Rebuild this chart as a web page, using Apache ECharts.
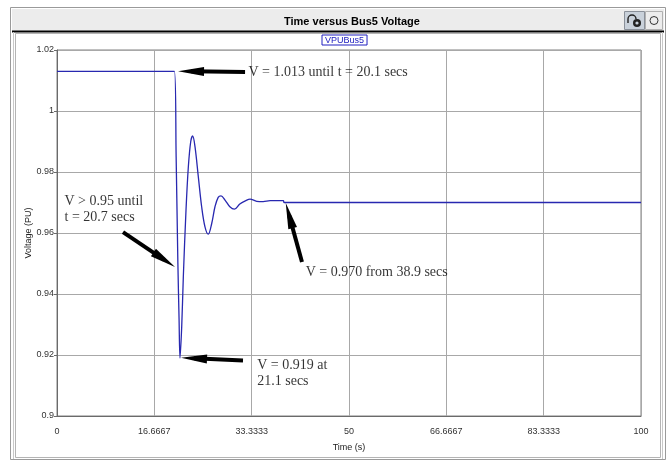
<!DOCTYPE html>
<html>
<head>
<meta charset="utf-8">
<title>Time versus Bus5 Voltage</title>
<script src="https://cdn.jsdelivr.net/npm/echarts@6/dist/echarts.min.js"></script>
<style>
  html, body { margin: 0; padding: 0; background: #ffffff; }
  #chart { width: 671px; height: 462px; }
</style>
</head>
<body>
<div id="chart"></div>
<script>
// Bus 5 per-unit voltage after the disturbance at t = 20.1 s
const seriesName = 'VPUBus5';
const timeSec = [0, 20.1, 20.4, 20.7, 20.9, 21.06, 21.35, 21.63, 22.09, 22.49, 22.9, 23.23, 23.63, 24.2, 24.77, 25.34, 25.9,
  26.5, 27.05, 27.6, 28.08, 28.77, 29.6, 30.37, 31.3, 32.5, 33.05, 34.2, 35.3, 36.5, 38.75, 38.9, 100];
const voltagePU = [1.013, 1.013, 0.985, 0.95, 0.932, 0.919, 0.929, 0.9456, 0.9675, 0.9817, 0.990, 0.9918, 0.9883, 0.9784, 0.9686, 0.962, 0.9596,
  0.9632, 0.9686, 0.9717, 0.9722, 0.9708, 0.9686, 0.9678, 0.9695, 0.9708, 0.9711, 0.9704, 0.9703, 0.9706, 0.9706, 0.970, 0.970];

const xTickLabels = ['0', '16.6667', '33.3333', '50', '66.6667', '83.3333', '100'];
const yTickLabels = ['0.9', '0.92', '0.94', '0.96', '0.98', '1', '1.02'];

// Callout texts and where they sit (time, voltage of the text's left-middle)
const noteTexts = ['V = 1.013 until t = 20.1 secs', 'V = 0.970 from 38.9 secs', 'V > 0.95 until\nt = 20.7 secs', 'V = 0.919 at\n21.1 secs'];
const noteAnchors = [[32.7, 1.0128], [42.5, 0.9472], [1.2, 0.9678], [34.2, 0.9140]];
// Callout arrows: tail -> centre of the arrow head, in (time, voltage)
const arrowTails = [[32.2, 1.0128], [41.95, 0.9505], [11.3, 0.9603], [31.85, 0.9182]];
const arrowHeads = [[22.95, 1.0130], [39.76, 0.9657], [18.36, 0.9512], [23.46, 0.9189]];

const curve = timeSec.map((t, i) => [t, voltagePU[i]]);

const chart = echarts.init(document.getElementById('chart'), null, { renderer: 'canvas' });

const plotFont = 'Liberation Sans, Arial, sans-serif';
const noteFont = 'Liberation Serif, Times New Roman, serif';

chart.setOption({
  animation: false,
  backgroundColor: '#ffffff',
  title: {
    text: 'Time versus Bus5 Voltage',
    left: 279,
    top: 11,
    textStyle: { fontFamily: plotFont, fontSize: 11, fontWeight: 'bold', color: '#000000' }
  },
  legend: {
    data: [{ name: seriesName, icon: 'none' }],
    top: 35,
    left: 322,
    itemWidth: 0,
    itemHeight: 0,
    itemGap: 0,
    padding: [1, 3, 0, 3],
    borderColor: '#2020c0',
    borderWidth: 1,
    selectedMode: false,
    textStyle: { fontFamily: plotFont, fontSize: 9, color: '#2020c0', padding: [0, 0, 0, -5] }
  },
  grid: {
    left: 57, right: 30, top: 50, bottom: 46,
    show: true, borderColor: '#808080', borderWidth: 1, backgroundColor: '#ffffff'
  },
  xAxis: {
    type: 'value',
    min: 0, max: 100, interval: 100 / 6,
    name: 'Time (s)',
    nameLocation: 'middle',
    nameGap: 27,
    nameMoveOverlap: false,
    nameTextStyle: { fontFamily: plotFont, fontSize: 9, color: '#222222' },
    axisLine: { show: true, lineStyle: { color: '#6a6a6a', width: 1 } },
    axisTick: { show: false },
    axisLabel: {
      fontFamily: plotFont, fontSize: 9, color: '#333333', margin: 11,
      formatter: v => xTickLabels[Math.round(v / (100 / 6))]
    },
    splitLine: { show: true, lineStyle: { color: '#a8a8a8', width: 1 } }
  },
  yAxis: {
    type: 'value',
    min: 0.9, max: 1.02, interval: 0.02,
    name: 'Voltage (PU)',
    nameLocation: 'middle',
    nameGap: 24,
    nameMoveOverlap: false,
    nameTextStyle: { fontFamily: plotFont, fontSize: 9, color: '#222222' },
    axisLine: { show: true, lineStyle: { color: '#6a6a6a', width: 1 } },
    axisTick: { show: true, length: 3, lineStyle: { color: '#6a6a6a' } },
    axisLabel: {
      fontFamily: plotFont, fontSize: 9, color: '#333333', margin: 3,
      formatter: v => yTickLabels[Math.round((v - 0.9) / 0.02)]
    },
    splitLine: { show: true, lineStyle: { color: '#a8a8a8', width: 1 } }
  },
  series: [
    {
      name: seriesName,
      type: 'line',
      data: curve,
      showSymbol: false,
      smooth: 0.35,
      lineStyle: { color: '#2828b0', width: 1.3 },
      itemStyle: { color: '#2828b0' },
      z: 3
    },
    {
      name: 'notes',
      type: 'scatter',
      data: noteAnchors.map((p, i) => ({ value: p, name: noteTexts[i] })),
      symbolSize: 1,
      itemStyle: { color: 'rgba(0,0,0,0)' },
      label: {
        show: true, position: 'right', distance: 0,
        formatter: p => p.name,
        fontFamily: noteFont, fontSize: 14, lineHeight: 16, color: '#000000'
      },
      silent: true,
      z: 5,
      markLine: {
        silent: true,
        symbol: ['none', 'triangle'],
        symbolSize: [9, 26],
        label: { show: false },
        lineStyle: { color: '#000000', width: 4, type: 'solid' },
        data: arrowTails.map((t, i) => [{ coord: t }, { coord: arrowHeads[i] }])
      }
    }
  ],
  graphic: [
    // window frame
    { type: 'rect', z: -10, shape: { x: 10.5, y: 7.5, width: 655, height: 452 }, style: { fill: '#ffffff', stroke: '#9a9a9a', lineWidth: 1 } },
    { type: 'rect', z: -9, shape: { x: 15.5, y: 33.5, width: 645, height: 424 }, style: { fill: '#ffffff', stroke: '#b4b4b4', lineWidth: 1 } },
    { type: 'rect', z: -9, shape: { x: 12, y: 9, width: 652, height: 22 }, style: { fill: '#ececec' } },
    { type: 'line', z: -8, shape: { x1: 12, y1: 31.5, x2: 664, y2: 31.5 }, style: { stroke: '#000000', lineWidth: 2 } },
    { type: 'line', z: -8, shape: { x1: 13.5, y1: 32, x2: 13.5, y2: 459 }, style: { stroke: '#c8c8c8', lineWidth: 1 } },
    { type: 'line', z: -8, shape: { x1: 662.5, y1: 32, x2: 662.5, y2: 459 }, style: { stroke: '#c8c8c8', lineWidth: 1 } },
    // title-bar buttons
    { type: 'rect', shape: { x: 624.5, y: 11.5, width: 20, height: 18 }, style: { fill: '#c9d1da', stroke: '#8a9099', lineWidth: 1 } },
    { type: 'arc', shape: { cx: 632, cy: 19, r: 4, startAngle: Math.PI, endAngle: Math.PI * 2 }, style: { fill: 'none', stroke: '#222222', lineWidth: 1.4 } },
    { type: 'line', shape: { x1: 628, y1: 19, x2: 628, y2: 23 }, style: { stroke: '#222222', lineWidth: 1.4 } },
    { type: 'circle', shape: { cx: 637, cy: 23, r: 4 }, style: { fill: '#222222' } },
    { type: 'circle', shape: { cx: 637, cy: 23, r: 1.6 }, style: { fill: '#c9d1da' } },
    { type: 'rect', shape: { x: 645.5, y: 11.5, width: 17, height: 18 }, style: { fill: '#ececec', stroke: '#b0b0b0', lineWidth: 1 } },
    { type: 'circle', shape: { cx: 654, cy: 20.5, r: 4 }, style: { fill: 'none', stroke: '#333333', lineWidth: 1 } }
  ]
});
</script>
</body>
</html>
